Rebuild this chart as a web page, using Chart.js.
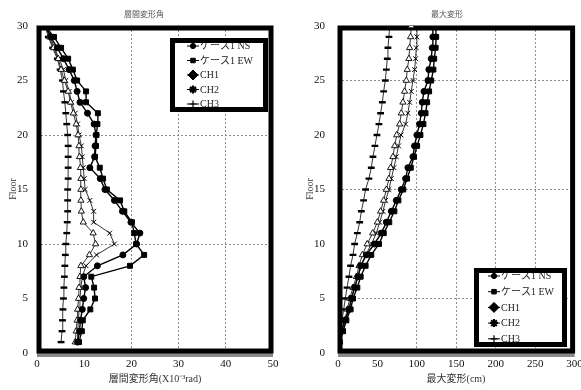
<!DOCTYPE html>
<html>
<head>
<meta charset="utf-8">
<script src="https://cdn.jsdelivr.net/npm/chart.js@4.4.0/dist/chart.umd.min.js"></script>
<style>
  html, body { margin: 0; padding: 0; background: #fff; }
  #wrap { position: relative; width: 581px; height: 390px; overflow: hidden; }
  #driftChart { position: absolute; left: 0; top: 0; }
  #dispChart { position: absolute; left: 290px; top: 0; }
</style>
</head>
<body>
<div id="wrap">
  <canvas id="driftChart" width="290" height="390"></canvas>
  <canvas id="dispChart" width="291" height="390"></canvas>
</div>
<script>
// Floor numbers (shared by both panels)
const floors = [1, 2, 3, 4, 5, 6, 7, 8, 9, 10, 11, 12, 13, 14, 15,
                16, 17, 18, 19, 20, 21, 22, 23, 24, 25, 26, 27, 28, 29, 30];

const seriesNames = ['ケース1 NS', 'ケース1 EW', 'CH1', 'CH2', 'CH3'];

// Story drift angle (x10^-3 rad), floor 1 -> 30
const driftNS  = [8.6, 9.0, 9.2, 9.6, 9.9, 10.3, 9.9, 12.8, 18.2, 21.1, 21.8, 19.9, 18.1, 16.4, 14.4,
                  13.4, 11.2, 12.2, 12.3, 12.5, 12.1, 10.7, 9.1, 8.5, 7.9, 6.8, 5.6, 4.3, 2.9, 1.9];
const driftEW  = [8.9, 9.5, 9.7, 11.3, 12.3, 12.1, 11.5, 19.7, 22.7, 21.0, 20.6, 20.1, 18.5, 17.6, 14.8,
                  14.0, 13.3, 12.3, 12.5, 12.6, 12.8, 12.9, 10.4, 10.4, 8.5, 7.6, 6.6, 5.1, 3.6, 1.7];
const driftCH1 = [8.1, 8.3, 8.5, 8.6, 8.8, 8.9, 9.1, 9.3, 11.1, 12.4, 11.9, 9.8, 9.4, 9.3, 9.3,
                  9.3, 9.2, 9.0, 8.9, 8.7, 8.3, 7.7, 7.1, 6.6, 5.8, 5.1, 4.5, 3.5, 2.6, 1.8];
const driftCH2 = [8.5, 8.6, 8.8, 8.9, 9.1, 9.3, 9.6, 10.4, 12.6, 16.4, 15.4, 12.0, 12.0, 11.2, 10.2,
                  10.0, 9.8, 9.6, 9.4, 8.9, 8.6, 8.1, 7.3, 6.8, 6.1, 5.6, 4.7, 3.7, 2.8, 1.9];
const driftCH3 = [5.1, 5.3, 5.4, 5.5, 5.6, 5.7, 5.8, 5.9, 6.0, 6.1, 6.3, 6.4, 6.5, 6.5, 6.5,
                  6.6, 6.6, 6.6, 6.6, 6.5, 6.3, 6.1, 5.9, 5.6, 5.4, 4.9, 4.3, 3.3, 2.4, 1.7];

// Maximum displacement (cm), floor 1 -> 30
const dispNS  = [1.5, 4.3, 8.5, 14.0, 17.0, 21.0, 25.3, 28.7, 36.0, 46.0, 55.0, 61.3, 67.6, 73.9, 80.2,
                 85.7, 88.6, 95.0, 97.0, 100.0, 103.4, 105.6, 106.8, 109.0, 114.0, 115.2, 118.2, 119.5, 120.3, 120.3];
const dispEW  = [2.2, 6.4, 10.6, 16.0, 19.0, 24.5, 28.7, 35.0, 42.2, 52.0, 58.0, 65.0, 71.5, 76.6, 82.8,
                 87.6, 92.3, 96.4, 100.3, 104.5, 108.3, 111.0, 113.0, 115.5, 118.2, 121.0, 122.0, 123.8, 124.5, 123.8];
const dispCH1 = [2.2, 5.1, 8.5, 11.9, 14.8, 19.0, 23.3, 26.6, 30.9, 37.0, 44.0, 49.9, 54.0, 57.9, 61.3,
                 64.6, 66.7, 69.7, 71.8, 74.5, 78.1, 80.2, 82.3, 84.4, 86.6, 87.8, 89.9, 90.8, 92.0, 92.9];
const dispCH2 = [2.2, 6.4, 10.6, 14.0, 17.0, 21.0, 25.4, 29.6, 35.0, 42.5, 48.6, 52.8, 57.0, 60.4, 64.6,
                 67.6, 70.9, 73.9, 76.8, 80.0, 85.7, 88.6, 90.8, 92.9, 95.0, 97.1, 98.4, 99.2, 100.0, 100.3];
const dispCH3 = [1.3, 3.4, 5.1, 7.2, 9.3, 11.4, 13.9, 16.0, 19.0, 21.1, 24.5, 27.5, 29.6, 32.5, 35.0,
                 39.2, 42.2, 44.3, 46.8, 49.4, 51.9, 54.0, 56.2, 57.9, 60.0, 61.3, 62.5, 63.3, 64.6, 65.4];

// Axis tick values
const driftTicks = [0, 10, 20, 30, 40, 50];
const dispTicks = [0, 50, 100, 150, 200, 250, 300];
const floorTicks = [0, 5, 10, 15, 20, 25, 30];

const SERIF = '"Liberation Serif", "Times New Roman", "Noto Sans CJK JP", serif';
const CJK = '"Noto Sans CJK JP", "Liberation Serif", sans-serif';

// Marker look per series
const markerStyles = [
  { style: 'circle',   r: 3,   fill: '#000', pbw: 1,   lw: 1.4 },
  { style: 'rect',     r: 3.5, fill: '#000', pbw: 1,   lw: 1.4 },
  { style: 'triangle', r: 3.6, fill: '#fff', pbw: 0.9, lw: 0.8 },
  { style: 'crossRot', r: 3.4, fill: '#000', pbw: 1,   lw: 0.8 },
  { style: 'line',     r: 3.4, fill: '#000', pbw: 2.4, lw: 0.8 }
];
// Legend symbols
const legendSymbols = [
  { style: 'circle',  r: 2.6, fill: '#000', bw: 1 },
  { style: 'rect',    r: 3.2, fill: '#000', bw: 1 },
  { style: 'rectRot', r: 5,   fill: '#000', bw: 1 },
  { style: 'star',    r: 4,   fill: '#000', bw: 2 },
  { style: 'cross',   r: 3.5, fill: '#000', bw: 1.2 }
];

// Thick frame with a grey shadow under the plot area
const framePlugin = {
  id: 'frame',
  beforeDatasetsDraw(chart) {
    const { ctx, chartArea: a } = chart;
    ctx.save();
    ctx.fillStyle = '#8a8a8a';
    ctx.fillRect(a.left, a.bottom, a.right - a.left, 4);
    ctx.strokeStyle = '#000';
    ctx.lineWidth = 5;
    ctx.strokeRect(a.left + 2, a.top + 2, a.right - a.left - 4, a.bottom - a.top - 4);
    ctx.restore();
  }
};

// Titles, axis titles and boxed legend
const decorPlugin = {
  id: 'decor',
  afterDatasetsDraw(chart, args, o) {
    const { ctx } = chart;
    ctx.save();
    ctx.textAlign = 'center';
    ctx.textBaseline = 'middle';
    ctx.fillStyle = '#555';
    ctx.font = '8px ' + CJK;
    ctx.fillText(o.title, o.titleX, 14);

    ctx.fillStyle = '#333';
    ctx.font = '10px ' + SERIF;
    ctx.fillText(o.xTitle, o.xTitleX, 379);

    ctx.save();
    ctx.translate(o.yTitleX, 189);
    ctx.rotate(-Math.PI / 2);
    ctx.fillText('Floor', 0, 0);
    ctx.restore();

    // legend box
    const b = o.legend;
    ctx.fillStyle = '#fff';
    ctx.fillRect(b.x, b.y, b.w, b.h);
    ctx.strokeStyle = '#000';
    ctx.lineWidth = 5;
    ctx.strokeRect(b.x + 2.5, b.y + 2.5, b.w - 5, b.h - 5);

    ctx.save();
    ctx.beginPath();
    ctx.rect(b.x + 5, b.y + 5, b.w - 10, b.h - 10);
    ctx.clip();
    seriesNames.forEach((name, i) => {
      const y = b.rowY + i * b.gap;
      ctx.strokeStyle = '#000';
      ctx.lineWidth = 1;
      ctx.beginPath();
      ctx.moveTo(b.sx, y);
      ctx.lineTo(b.sx + 12, y);
      ctx.stroke();
      const s = legendSymbols[i];
      ctx.fillStyle = s.fill;
      ctx.lineWidth = s.bw;
      Chart.helpers.drawPoint(ctx, { pointStyle: s.style, radius: s.r, rotation: 0, borderWidth: s.bw }, b.sx + 6, y);
      ctx.fillStyle = '#222';
      ctx.textAlign = 'left';
      ctx.font = '10px ' + SERIF;
      ctx.fillText(name, b.sx + 13, y + 0.5);
    });
    ctx.restore();
    ctx.restore();
  }
};

function buildPanel(canvas, cfg) {
  const datasets = cfg.values.map((vals, i) => {
    const m = markerStyles[i];
    return {
      label: seriesNames[i],
      data: floors.map((f, k) => ({ x: vals[k], y: f })),
      showLine: true,
      borderColor: '#000',
      borderWidth: m.lw,
      pointStyle: m.style,
      pointRadius: m.r,
      pointBackgroundColor: m.fill,
      pointBorderColor: '#000',
      pointBorderWidth: m.pbw,
      tension: 0
    };
  });
  return new Chart(canvas, {
    type: 'scatter',
    data: { datasets },
    options: {
      responsive: false,
      animation: false,
      devicePixelRatio: 1,
      layout: { padding: { top: 26, right: cfg.padRight, left: 0, bottom: 0 } },
      plugins: {
        legend: { display: false },
        tooltip: { enabled: false },
        decor: cfg.decor
      },
      scales: {
        x: {
          type: 'linear',
          min: cfg.xTicks[0],
          max: cfg.xTicks[cfg.xTicks.length - 1],
          afterBuildTicks: s => { s.ticks = cfg.xTicks.map(v => ({ value: v })); },
          afterFit: s => { s.height = 37; s.paddingLeft = 0; s.paddingRight = 0; },
          ticks: { font: { family: SERIF, size: 11 }, color: '#111', padding: 5, maxRotation: 0, autoSkip: false },
          grid: {
            drawTicks: false,
            lineWidth: 1,
            color: c => (c.tick && cfg.xGrid.includes(c.tick.value)) ? '#8c8c8c' : 'rgba(0,0,0,0)'
          },
          border: { display: false, dash: [2, 2] }
        },
        y: {
          type: 'linear',
          min: 0,
          max: 30,
          afterBuildTicks: s => { s.ticks = floorTicks.map(v => ({ value: v })); },
          afterFit: s => { s.width = cfg.yWidth; s.paddingTop = 0; s.paddingBottom = 0; },
          ticks: { font: { family: SERIF, size: 11 }, color: '#111', padding: cfg.yPad, autoSkip: false },
          grid: {
            drawTicks: false,
            lineWidth: 1,
            color: c => (c.tick && cfg.yGrid.includes(c.tick.value)) ? '#8c8c8c' : 'rgba(0,0,0,0)'
          },
          border: { display: false, dash: [2, 2] }
        }
      }
    },
    plugins: [framePlugin, decorPlugin]
  });
}

// Left panel: story drift angle
buildPanel(document.getElementById('driftChart'), {
  values: [driftNS, driftEW, driftCH1, driftCH2, driftCH3],
  xTicks: driftTicks,
  xGrid: [20, 30, 40],
  yGrid: [10, 20],
  yWidth: 37,
  yPad: 9,
  padRight: 17,
  decor: {
    title: '層間変形角', titleX: 144,
    xTitle: '層間変形角(X10⁻³rad)', xTitleX: 155,
    yTitleX: 13,
    legend: { x: 170, y: 38, w: 98, h: 74, rowY: 46, gap: 14.5, sx: 187 }
  }
});

// Right panel: maximum displacement
buildPanel(document.getElementById('dispChart'), {
  values: [dispNS, dispEW, dispCH1, dispCH2, dispCH3],
  xTicks: dispTicks,
  xGrid: [100, 150, 200, 250],
  yGrid: [5, 15, 25],
  yWidth: 48,
  yPad: 13,
  padRight: 6,
  decor: {
    title: '最大変形', titleX: 157,
    xTitle: '最大変形(cm)', xTitleX: 166,
    yTitleX: 20,
    legend: { x: 184, y: 268, w: 93, h: 79, rowY: 276, gap: 15.7, sx: 198 }
  }
});
</script>
</body>
</html>
